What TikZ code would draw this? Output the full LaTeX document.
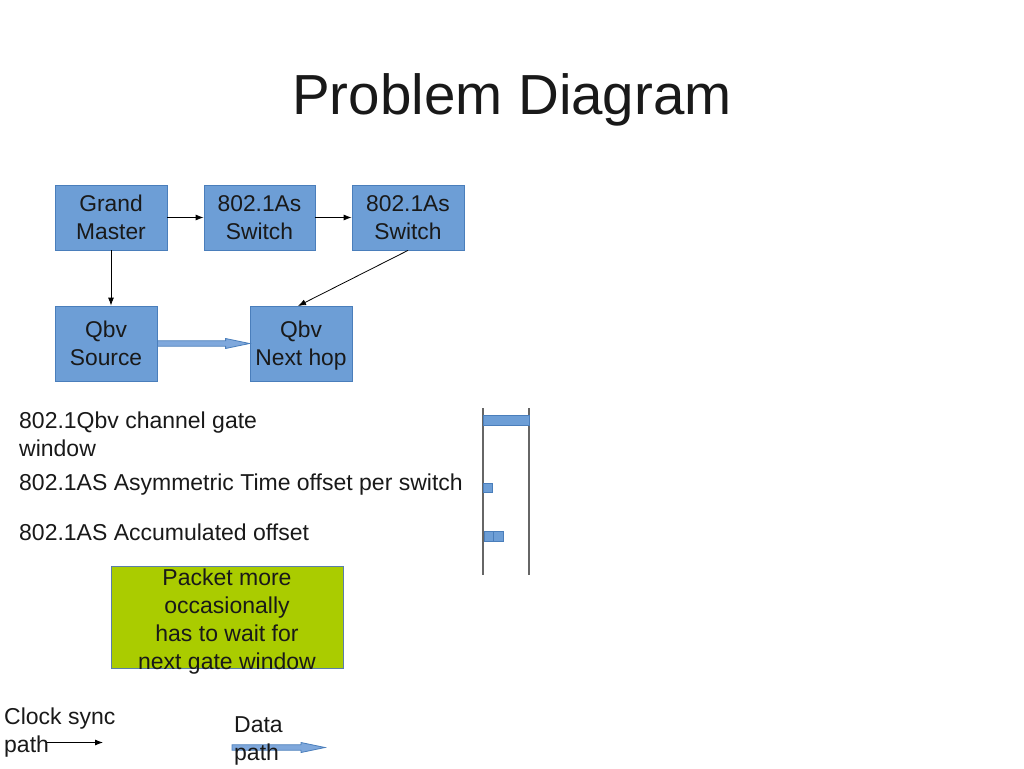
\documentclass[tikz,border=0pt]{standalone}
\usepackage{fontspec}
\setmainfont{Liberation Sans}
\usetikzlibrary{arrows.meta,calc}
\definecolor{boxfill}{HTML}{6D9ED6}
\definecolor{boxline}{HTML}{4A7EBB}
\definecolor{greenfill}{HTML}{AACC00}
\definecolor{arrfill}{HTML}{7FA8DC}
\definecolor{tline}{HTML}{666666}
\tikzset{
  blk/.style={draw=boxline, fill=boxfill, line width=0.8pt, align=center, inner sep=0pt,
    font=\fontsize{22.8}{28}\selectfont, text=black!90},
  sync/.style={-{Latex[length=8pt,width=6pt]}, line width=0.8pt, black},
  lbl/.style={anchor=west, align=left, inner sep=0pt, font=\fontsize{23}{28}\selectfont, text=black!90},
  bar/.style={draw=boxline, fill=boxfill, line width=0.8pt},
}
\newcommand{\blockarrow}[2]{%
  \path let \p1=(#1), \p2=(#2) in
    [draw=boxline, fill=arrfill, line width=0.8pt]
    (\x1,\y1+2.7) -- (\x2-24,\y1+2.7) -- (\x2-24,\y1+5) -- (\x2,\y1) -- (\x2-24,\y1-5) -- (\x2-24,\y1-2.7) -- (\x1,\y1-2.7) -- cycle;}
\begin{document}
\begin{tikzpicture}[x=1pt,y=-1pt]
\useasboundingbox (0,0) rectangle (1024,768);
\node[font=\fontsize{56.5}{60}\selectfont, text=black!90] (title) at (512,100) {Problem Diagram};

\node[blk, minimum width=112pt, minimum height=65pt] (gm) at (111,217.5) {Grand\\Master};
\node[blk, minimum width=111pt, minimum height=65pt] (s1) at (259.5,217.5) {802.1As\\Switch};
\node[blk, minimum width=112pt, minimum height=65pt] (s2) at (408,217.5) {802.1As\\Switch};
\node[blk, minimum width=102pt, minimum height=75pt] (src) at (106,343.5) {Qbv\\Source};
\node[blk, minimum width=102pt, minimum height=75pt] (nh) at (301,343.5) {Qbv\\Next ho\smash{p}};

\draw[sync] (gm.east) -- (s1.west);
\draw[sync] (s1.east) -- (s2.west);
\draw[sync] (gm.south) -- (gm.south |- src.north);
\draw[sync] (s2.south) -- (298,306);
\blockarrow{src.east}{nh.west}

\node[lbl] (l1) at (19,434.5) {802.1Qbv channel gate\\window};
\node[lbl] (l2) at (19,484.5) {802.1AS Asymmetric Time offset per switch};
\node[lbl] (l3) at (19,532.5) {802.1AS Accumulated offset};

\draw[tline, line width=1.6pt] (483,408) -- (483,575);
\draw[tline, line width=1.6pt] (529,408) -- (529,575);
\draw[bar] (483,415) rectangle (529,425);
\draw[bar] (483,483) rectangle (492,492);
\draw[bar] (484,531) rectangle (493.5,541);
\draw[bar] (493.5,531) rectangle (503,541);

\node[draw=boxline!70!gray, fill=greenfill, line width=0.8pt, minimum width=232pt, minimum height=102pt, inner sep=0pt] (gbox) at (227,617) {};
\node[align=center, font=\fontsize{23}{28}\selectfont, text=black!90, anchor=north] (gtext) at (227,565) {Packet more\\occasionally\\has to wait for\\next gate window};

\node[lbl] (cs) at (4,733) {Clock sync\\path};
\coordinate (csa) at (47,742.5);
\coordinate (csb) at (103,742.5);
\draw[sync] (csa) -- (csb);
\coordinate (dpa) at (232,747.5);
\coordinate (dpb) at (325,747.5);
\blockarrow{dpa}{dpb}
\node[lbl] (dp) at (234,741) {Data\\path};
\end{tikzpicture}
\end{document}
